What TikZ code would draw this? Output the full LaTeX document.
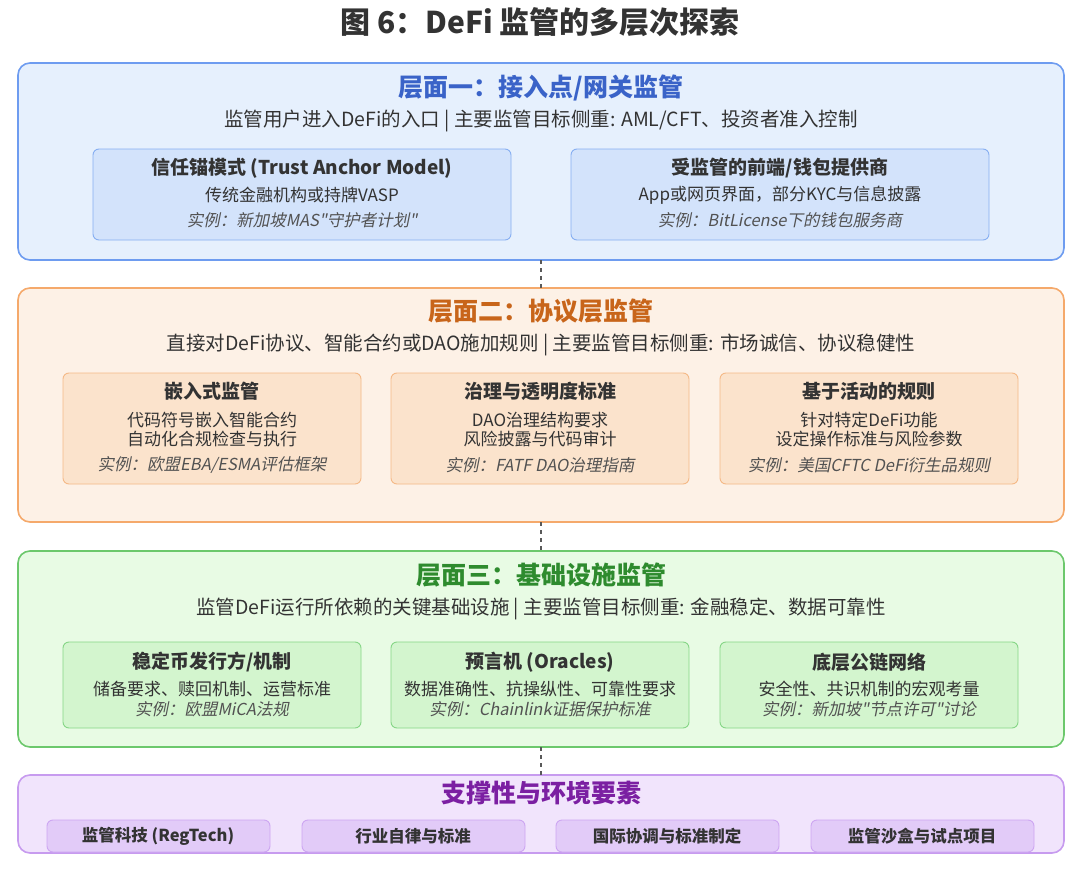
\documentclass[tikz,border=0pt]{standalone}
\usepackage{fontspec}
\setmainfont{Noto Sans CJK SC}
\newfontfamily\slfont{Noto Sans CJK SC}[FakeSlant=0.2]
\definecolor{bB}{HTML}{6E9CF0}\definecolor{bF}{HTML}{E6F0FD}\definecolor{bI}{HTML}{D3E3FB}\definecolor{bIB}{HTML}{86AEF2}\definecolor{bT}{HTML}{3A63C8}
\definecolor{oB}{HTML}{F5A96B}\definecolor{oF}{HTML}{FDF1E6}\definecolor{oI}{HTML}{FBE3CC}\definecolor{oIB}{HTML}{F5B987}\definecolor{oT}{HTML}{C8651A}
\definecolor{gB}{HTML}{6CC86C}\definecolor{gF}{HTML}{E8FBE4}\definecolor{gI}{HTML}{D3F5CE}\definecolor{gIB}{HTML}{86D686}\definecolor{gT}{HTML}{2E8B2E}
\definecolor{pB}{HTML}{C79BEF}\definecolor{pF}{HTML}{F1E4FC}\definecolor{pI}{HTML}{E2CBF8}\definecolor{pIB}{HTML}{CDA6F2}\definecolor{pT}{HTML}{7B1FA2}
\definecolor{txt}{HTML}{333333}
\begin{document}
\begin{tikzpicture}[x=1pt,y=-1pt,
 layer/.style={draw=#1,line width=1.6pt,rounded corners=12pt},
 inner/.style={draw=#1,line width=0.9pt,rounded corners=6pt},
 ltitle/.style={font=\fontsize{25}{29}\selectfont\bfseries,text=#1},
 sub/.style={font=\fontsize{19.5}{22}\selectfont,text=txt},
 bt/.style={font=\fontsize{19}{22}\selectfont\bfseries,text=txt},
 bl/.style={font=\fontsize{17}{20}\selectfont,text=txt},
 ex/.style={font=\fontsize{16.5}{19}\selectfont\slfont,text=txt!85},
 conn/.style={draw=gray!70!black,line width=1.2pt,dash pattern=on 4pt off 4pt}]
\useasboundingbox[fill=white] (0,0) rectangle (1080,870);
\node[font=\fontsize{30}{34}\selectfont\bfseries,text=txt] (title) at (540,22) {图 6：DeFi 监管的多层次探索};
% layer 1
\path[layer=bB,fill=bF] (18,63) rectangle (1064,260); \coordinate (l1b) at (541,260);
\node[ltitle=bT] (t1) at (541,88) {层面一：接入点/网关监管};
\node[sub] (s1) at (541,121) {监管用户进入DeFi的入口 | 主要监管目标侧重: AML/CFT、投资者准入控制};
\path[inner=bIB,fill=bI] (93,149) rectangle (511,240);
\path[inner=bIB,fill=bI] (571,149) rectangle (989,240);
\node[bt] (a1) at (302,168) {信任锚模式 (Trust Anchor Model)};
\node[bl] (a2) at (302,195) {传统金融机构或持牌VASP};
\node[ex] (a3) at (302,220) {实例：新加坡MAS"守护者计划"};
\node[bt] (b1) at (780,168) {受监管的前端/钱包提供商};
\node[bl] (b2) at (780,195) {App或网页界面，部分KYC与信息披露};
\node[ex] (b3) at (780,220) {实例：BitLicense下的钱包服务商};
% layer 2
\path[layer=oB,fill=oF] (18,288) rectangle (1064,522); \coordinate (l2t) at (541,288); \coordinate (l2b) at (541,522);
\node[ltitle=oT] (t2) at (541,311) {层面二：协议层监管};
\node[sub] (s2) at (541,345) {直接对DeFi协议、智能合约或DAO施加规则 | 主要监管目标侧重: 市场诚信、协议稳健性};
\foreach \x/\a/\b/\c/\d [count=\i] in {212/嵌入式监管/代码符号嵌入智能合约/自动化合规检查与执行/{实例：欧盟EBA/ESMA评估框架},
 540/治理与透明度标准/DAO治理结构要求/风险披露与代码审计/实例：FATF DAO治理指南,
 869/基于活动的规则/针对特定DeFi功能/设定操作标准与风险参数/实例：美国CFTC DeFi衍生品规则}{
 \path[inner=oIB,fill=oI] (\x-149,373) rectangle (\x+149,484);
 \node[bt] (p\i a) at (\x,391) {\a};
 \node[bl] (p\i b) at (\x,420) {\b};
 \node[bl] (p\i c) at (\x,439) {\c};
 \node[ex] (p\i d) at (\x,465) {\d};}
% layer 3
\path[layer=gB,fill=gF] (18,551) rectangle (1064,747); \coordinate (l3t) at (541,551); \coordinate (l3b) at (541,747);
\node[ltitle=gT] (t3) at (541,575) {层面三：基础设施监管};
\node[sub] (s3) at (541,609) {监管DeFi运行所依赖的关键基础设施 | 主要监管目标侧重: 金融稳定、数据可靠性};
\foreach \x/\a/\b/\d [count=\i] in {212/{稳定币发行方/机制}/储备要求、赎回机制、运营标准/实例：欧盟MiCA法规,
 540/预言机 (Oracles)/数据准确性、抗操纵性、可靠性要求/实例：Chainlink证据保护标准,
 869/底层公链网络/安全性、共识机制的宏观考量/实例：新加坡"节点许可"讨论}{
 \path[inner=gIB,fill=gI] (\x-149,642) rectangle (\x+149,728);
 \node[bt] (q\i a) at (\x,662) {\a};
 \node[bl] (q\i b) at (\x,689) {\b};
 \node[ex] (q\i d) at (\x,709) {\d};}
% layer 4
\path[layer=pB,fill=pF] (18,775) rectangle (1064,853); \coordinate (l4t) at (541,775);
\node[ltitle=pT] (t4) at (541,793) {支撑性与环境要素};
\foreach \x/\a [count=\i] in {158/监管科技 (RegTech),413/行业自律与标准,667/国际协调与标准制定,922/监管沙盒与试点项目}{
 \path[inner=pIB,fill=pI] (\x-111,820) rectangle (\x+112,852);
 \node[font=\fontsize{16.5}{19}\selectfont\bfseries,text=txt] (r\i) at (\x,836) {\a};}
\draw[conn] (l1b) -- (l2t); \draw[conn] (l2b) -- (l3t); \draw[conn] (l3b) -- (l4t);
\end{tikzpicture}
\end{document}
